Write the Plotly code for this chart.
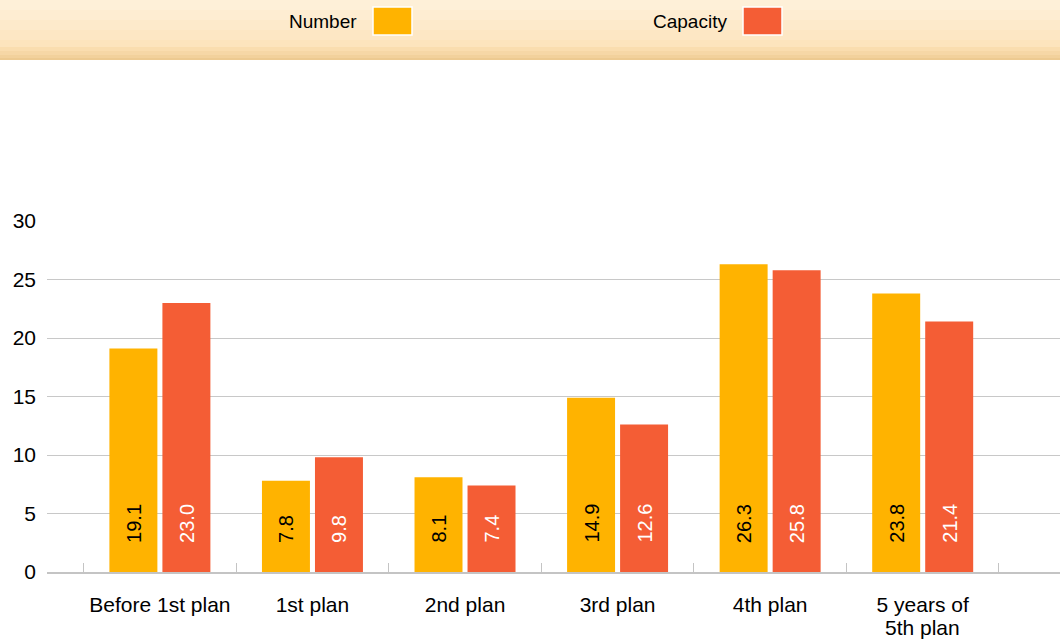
import plotly.graph_objects as go

categories = ["Before 1st plan", "1st plan", "2nd plan", "3rd plan", "4th plan", "5 years of<br>5th plan"]
number_vals = [19.1, 7.8, 8.1, 14.9, 26.3, 23.8]
capacity_vals = [23.0, 9.8, 7.4, 12.6, 25.8, 21.4]
series_names = ["Number", "Capacity"]
y_ticks = [0, 5, 10, 15, 20, 25, 30]

ORANGE = "#FFB300"
RED = "#F45D35"
FONT = "Liberation Sans, Arial, Helvetica, sans-serif"

W, H = 1060, 639
L, R, T, B = 47, 0, 221, 67

fig = go.Figure()
fig.add_trace(go.Bar(x=categories, y=number_vals, name=series_names[0],
                     marker=dict(color=ORANGE, line=dict(width=0)), showlegend=False))
fig.add_trace(go.Bar(x=categories, y=capacity_vals, name=series_names[1],
                     marker=dict(color=RED, line=dict(width=0)), showlegend=False))

# value labels, rotated, near the base of each bar
for vals, shift, col in [(number_vals, -26.5, "black"), (capacity_vals, 26.5, "white")]:
    for c, v in zip(categories, vals):
        fig.add_annotation(x=c, y=0, xref="x", yref="y", text=f"{v:.1f}",
                           textangle=-90, showarrow=False, xshift=shift, yshift=27,
                           xanchor="center", yanchor="bottom",
                           font=dict(family=FONT, size=20, color=col))

# category labels: first line as tick label, extra lines as tighter-spaced annotations
first_lines = [c.split("<br>")[0] for c in categories]
for c in categories:
    for i, extra in enumerate(c.split("<br>")[1:], start=1):
        fig.add_annotation(x=c, y=0, xref="x", yref="y", text=extra, showarrow=False,
                           xanchor="center", yanchor="middle", yshift=-33 - 22 * i,
                           font=dict(family=FONT, size=21, color="black"))

# header band with gradient (stacked bands)
pw = W - L - R
ph = H - T - B
def px_to_paper_x(px):
    return (px - L) / pw
def py_to_paper_y(py):
    return (H - B - py) / ph

bands = [
    (0, 10, "#FEF0D8"), (10, 20, "#FEEDD2"), (20, 30, "#FDEACB"), (30, 40, "#FDE7C4"),
    (40, 47, "#FDE4BD"), (47, 51, "#FADDAF"), (51, 55, "#F6D7A6"), (55, 58, "#F2D19C"),
    (58, 60, "#EDCA91"),
]
for y0, y1, col in bands:
    fig.add_shape(type="rect", xref="paper", yref="paper",
                  x0=px_to_paper_x(0), x1=px_to_paper_x(W),
                  y0=py_to_paper_y(y1), y1=py_to_paper_y(y0),
                  fillcolor=col, line=dict(width=0), layer="below")

# legend (text left of swatch)
legend_items = [(series_names[0], ORANGE, 373), (series_names[1], RED, 743)]
for name, col, sx in legend_items:
    fig.add_shape(type="rect", xref="paper", yref="paper",
                  x0=px_to_paper_x(sx), x1=px_to_paper_x(sx + 39),
                  y0=py_to_paper_y(35), y1=py_to_paper_y(7),
                  fillcolor=col, line=dict(color="white", width=1.5))
    fig.add_annotation(xref="paper", yref="paper", x=px_to_paper_x(sx - 14),
                       y=py_to_paper_y(21), text=name, showarrow=False,
                       xanchor="right", yanchor="middle",
                       font=dict(family=FONT, size=19, color="black"))

fig.update_layout(
    width=W, height=H,
    margin=dict(l=L, r=R, t=T, b=B, pad=0, autoexpand=False),
    paper_bgcolor="white", plot_bgcolor="white",
    barmode="group", bargap=0.305, bargroupgap=0.095,
    font=dict(family=FONT, size=20, color="black"),
    showlegend=False,
)
fig.update_xaxes(
    type="category", range=[-0.74, 5.9], automargin=False,
    tickvals=categories, ticktext=first_lines,
    showline=True, linecolor="#C4C4C4", linewidth=2,
    ticks="inside", ticklen=9, tickcolor="#C4C4C4", tickwidth=1,
    tickson="boundaries", showgrid=False,
    tickfont=dict(family=FONT, size=21, color="black"),
    ticklabelstandoff=13,
)
fig.update_yaxes(
    range=[0, 30], tickvals=y_ticks, ticktext=[str(t) for t in y_ticks],
    automargin=False,
    showgrid=True, gridcolor="#C8C8C8", gridwidth=1,
    zeroline=False, showline=False,
    tickfont=dict(family=FONT, size=21, color="black"),
    ticklabelstandoff=10,
)

fig.write_html("out.html", config={"displayModeBar": False},
               post_script="document.body.style.margin='0px';document.body.style.overflow='hidden';")
